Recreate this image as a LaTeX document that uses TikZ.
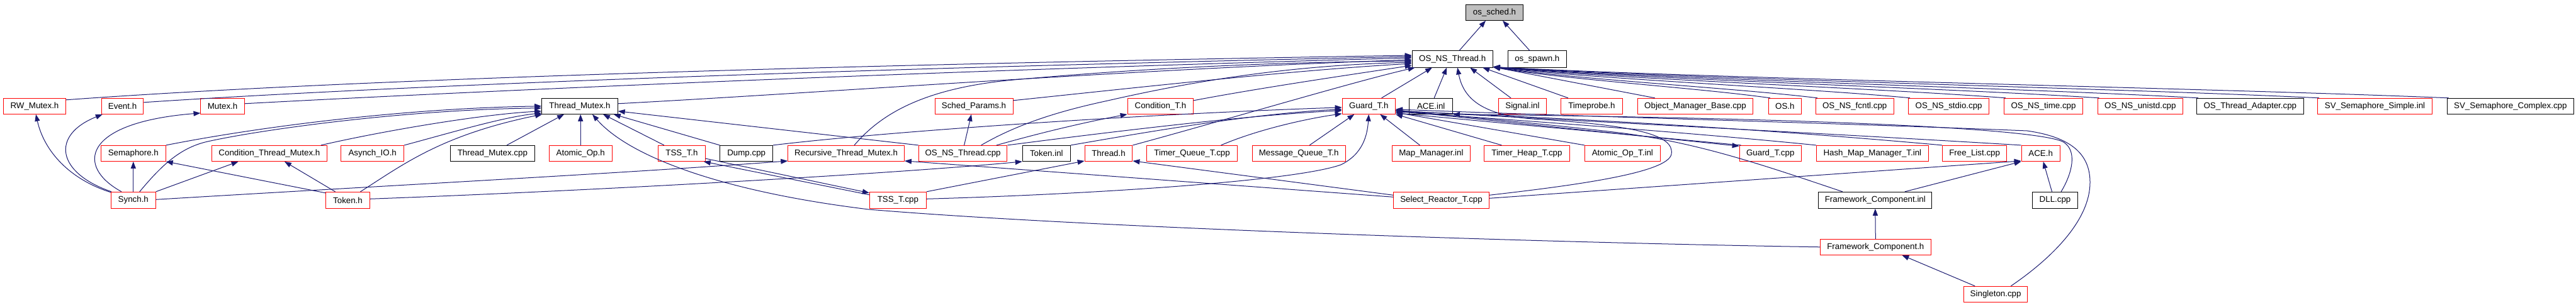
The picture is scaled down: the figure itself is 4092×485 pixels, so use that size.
\documentclass[tikz,border=0pt]{standalone}
\usepackage{fontspec}
\setmainfont{Liberation Sans}
\usetikzlibrary{arrows.meta,calc}
\definecolor{edgecol}{HTML}{191970}
\definecolor{redb}{HTML}{FF0000}
\definecolor{rootfill}{HTML}{BFBFBF}
\newcommand\dnode[5]{\node[#1,minimum width=#4*0.75pt] (#2) at (#3) {#5};}
\begin{document}
\begin{tikzpicture}[x=0.75pt,y=-0.75pt,
  base/.style={rectangle, line width=0.75pt, inner sep=0pt, minimum height=18.75pt, font=\fontsize{10}{12}\selectfont, text=black},
  rbox/.style={base, draw=redb},
  kbox/.style={base, draw=black},
  root/.style={base, draw=black, fill=rootfill},
  tall/.style={minimum height=19.5pt},
  dep/.style={draw=edgecol, line width=0.75pt, -{Triangle[length=8.25pt,width=6pt]}}]
\fill[white] (0,0) rectangle (4092,485);
\useasboundingbox (0,0) rectangle (4092,485);
% row 0
\dnode{root}{sched}{2374,19.8}{91}{os\_sched.h}
% row 1
\dnode{kbox,tall}{nsth}{2307.2,94}{128}{OS\_NS\_Thread.h}
\dnode{kbox,tall}{spawn}{2441.8,94}{93}{os\_spawn.h}
% row 2
\dnode{rbox}{rwm}{55,168.8}{99}{RW\_Mutex.h}
\dnode{rbox}{evt}{194.6,168.8}{66.5}{Event.h}
\dnode{rbox}{mtx}{353.6,168.8}{69.3}{Mutex.h}
\dnode{kbox}{thm}{921,168.8}{120.5}{Thread\_Mutex.h}
\dnode{rbox}{spar}{1547,168.8}{124}{Sched\_Params.h}
\dnode{rbox}{condT}{1843.4,168.8}{104.6}{Condition\_T.h}
\dnode{rbox}{guardh}{2174.3,168.8}{84.3}{Guard\_T.h}
\dnode{kbox}{aceinl}{2273.2,168.8}{68.5}{ACE.inl}
\dnode{rbox}{siginl}{2418.4,168.8}{76}{Signal.inl}
\dnode{rbox}{tprobe}{2528.4,168.8}{98.2}{Timeprobe.h}
\dnode{rbox}{omb}{2693,168.8}{183.6}{Object\_Manager\_Base.cpp}
\dnode{rbox}{osh}{2835.3,168.8}{52}{OS.h}
\dnode{rbox}{fcntl}{2946.2,168.8}{123.6}{OS\_NS\_fcntl.cpp}
\dnode{rbox}{stdio}{3095.6,168.8}{128}{OS\_NS\_stdio.cpp}
\dnode{rbox}{time}{3246,168.8}{125}{OS\_NS\_time.cpp}
\dnode{rbox}{unistd}{3399.8,168.8}{135.5}{OS\_NS\_unistd.cpp}
\dnode{kbox}{ota}{3574.3,168.8}{169.4}{OS\_Thread\_Adapter.cpp}
\dnode{rbox}{svs}{3772.5,168.8}{181.8}{SV\_Semaphore\_Simple.inl}
\dnode{kbox}{svc}{3987.8,168.8}{201.2}{SV\_Semaphore\_Complex.cpp}
% row 3
\dnode{rbox}{sem}{211.8,243.9}{102.8}{Semaphore.h}
\dnode{rbox}{ctm}{427.9,243.9}{182.9}{Condition\_Thread\_Mutex.h}
\dnode{rbox}{aio}{591.7,243.9}{99.9}{Asynch\_IO.h}
\dnode{kbox}{thmcpp}{782.4,243.9}{133.6}{Thread\_Mutex.cpp}
\dnode{rbox}{aop}{922.2,243.9}{99.9}{Atomic\_Op.h}
\dnode{rbox}{tssh}{1083,243.9}{74.6}{TSS\_T.h}
\dnode{kbox}{dump}{1185.7,243.9}{83.6}{Dump.cpp}
\dnode{rbox}{rtm}{1344.1,243.9}{184.6}{Recursive\_Thread\_Mutex.h}
\dnode{rbox}{nstcpp}{1529.6,243.9}{140.7}{OS\_NS\_Thread.cpp}
\dnode{kbox}{tokinl}{1662.3,243.9}{76}{Token.inl}
\dnode{rbox}{thr}{1761,243.9}{75.7}{Thread.h}
\dnode{rbox}{tqt}{1893.6,243.9}{143.6}{Timer\_Queue\_T.cpp}
\dnode{rbox}{mqt}{2063.2,243.9}{147.8}{Message\_Queue\_T.h}
\dnode{rbox}{mapm}{2273.4,243.9}{124}{Map\_Manager.inl}
\dnode{rbox}{theap}{2425.4,243.9}{135.7}{Timer\_Heap\_T.cpp}
\dnode{rbox}{aopt}{2577.3,243.9}{119.6}{Atomic\_Op\_T.inl}
\dnode{rbox}{guardcpp}{2812.2,243.9}{98.2}{Guard\_T.cpp}
\dnode{rbox}{hmm}{2974.3,243.9}{178}{Hash\_Map\_Manager\_T.inl}
\dnode{rbox}{flist}{3136.6,243.9}{102.4}{Free\_List.cpp}
\dnode{rbox}{aceh}{3241.7,243.9}{61.3}{ACE.h}
% row 4
\dnode{rbox,tall}{synch}{211.8,318.3}{70.7}{Synch.h}
\dnode{rbox,tall}{tokh}{552.5,318.3}{70}{Token.h}
\dnode{rbox,tall}{tsscpp}{1426.4,318.3}{90}{TSS\_T.cpp}
\dnode{rbox,tall}{srt}{2289.5,318.3}{151.8}{Select\_Reactor\_T.cpp}
\dnode{kbox,tall}{fcinl}{2978.8,318.3}{180.3}{Framework\_Component.inl}
\dnode{kbox,tall}{dll}{3264.5,318.3}{72.2}{DLL.cpp}
% row 5
\dnode{rbox}{fch}{2979.3,392.8}{175.5}{Framework\_Component.h}
% row 6
\dnode{rbox}{single}{3170.1,467.8}{101.5}{Singleton.cpp}

% ---- edges ----
\draw[dep] ($(nsth.north)+(10.8,0)$) -- ($(sched.south)+(-14,0)$);
\draw[dep] ($(spawn.north)+(-11.8,0)$) -- ($(sched.south)+(13,0)$);
% into OS_NS_Thread.h from left
\draw[dep] ($(rwm.north east)+(0,3)$) .. controls (500,130) and (1200,105) .. ($(nsth.west)+(0,-6)$);
\draw[dep] ($(evt.north east)+(0,7)$) .. controls (600,138) and (1300,110) .. ($(nsth.west)+(0,-4)$);
\draw[dep] ($(mtx.north east)+(0,9)$) .. controls (700,148) and (1400,115) .. ($(nsth.west)+(0,-2)$);
\draw[dep] ($(thm.east)+(0,-4)$) .. controls (1300,148) and (1800,110) .. ($(nsth.west)+(0,1)$);
\draw[dep] ($(rtm.north)+(13,0)$) .. controls (1400,180) and (1470,140) .. (1610,127) .. controls (1800,110) and (2000,99) .. ($(nsth.west)+(0,3)$);
\draw[dep] ($(nstcpp.north)+(29,0)$) .. controls (1620,195) and (1690,175) .. (1760,160) .. controls (1900,128) and (2050,104) .. ($(nsth.west)+(0,5)$);
\draw[dep] ($(spar.north east)+(0,4)$) .. controls (1800,140) and (2050,112) .. ($(nsth.west)+(0,7)$);
\draw[dep] ($(condT.north east)+(0,4)$) .. controls (2000,140) and (2150,118) .. ($(nsth.west)+(0,10)$);
\draw[dep] (thr.north east) .. controls (1950,190) and (2150,130) .. ($(nsth.south west)+(5,0)$);
% into OS_NS_Thread.h from below
\draw[dep] ($(guardh.north)+(20.3,0)$) -- ($(nsth.south)+(-32.2,0)$);
\draw[dep] ($(aceinl.north)+(5,0)$) -- ($(nsth.south)+(-9,0)$);
\draw[dep] ($(siginl.north)+(-18.4,0)$) -- ($(nsth.south)+(28,0)$);
\draw[dep] ($(tprobe.north)+(-37.4,0)$) -- ($(nsth.south)+(48,0)$);
\draw[dep] ($(omb.north west)+(28,0)$) -- ($(nsth.south east)+(0,-1)$);
\draw[dep] ($(osh.north west)+(3,0)$) .. controls (2701,140) and (2481,126) .. ($(nsth.south east)+(0,-1)$);
\draw[dep] ($(fcntl.north west)+(3,0)$) .. controls (2758,140) and (2500,126) .. ($(nsth.south east)+(0,-1)$);
\draw[dep] ($(stdio.north west)+(3,0)$) .. controls (2869,140) and (2537,126) .. ($(nsth.south east)+(0,-1)$);
\draw[dep] ($(time.north west)+(3,0)$) .. controls (2982,140) and (2575,126) .. ($(nsth.south east)+(0,-1)$);
\draw[dep] ($(unistd.north west)+(3,0)$) .. controls (3094,140) and (2612,126) .. ($(nsth.south east)+(0,-1)$);
\draw[dep] ($(ota.north west)+(3,0)$) .. controls (3211,140) and (2651,126) .. ($(nsth.south east)+(0,-1)$);
\draw[dep] ($(svs.north west)+(3,0)$) .. controls (3355,140) and (2699,126) .. ($(nsth.south east)+(0,-1)$);
\draw[dep] ($(svc.north west)+(3,0)$) .. controls (3510,140) and (2751,126) .. ($(nsth.south east)+(0,-1)$);
% left cluster
\draw[dep] (sem.north east) .. controls (420,200) and (650,172) .. (thm.west);
\draw[dep] ($(synch.north)+(10,0)$) .. controls (255,265) and (285,235) .. (330,225) .. controls (420,205) and (650,174) .. ($(thm.west)+(0,3)$);
\draw[dep] ($(ctm.north east)+(-10,0)$) .. controls (600,210) and (760,182) .. ($(thm.west)+(0,8)$);
\draw[dep] (aio.north east) .. controls (720,210) and (800,186) .. ($(thm.south west)+(0,-2)$);
\draw[dep] ($(tokh.north)+(20,0)$) .. controls (640,262) and (700,215) .. ($(thm.south west)+(1,0)$);
\draw[dep] ($(tokh.north west)+(0,2)$) -- (sem.south east);
\draw[dep] ($(tokh.north)+(-20,0)$) -- ($(ctm.south)+(24,0)$);
\draw[dep] ($(tokh.east)+(0,-2)$) .. controls (900,305) and (1400,278) .. (tokinl.south west);
\draw[dep] ($(synch.east)+(0,-1)$) .. controls (600,296) and (1000,275) .. ($(rtm.south west)+(0,-1)$);
\draw[dep] ($(synch.north west)+(0,1)$) .. controls (110,285) and (70,240) .. ($(rwm.south)+(2,0)$);
\draw[dep] ($(synch.north west)+(1,0)$) .. controls (90,275) and (80,215) .. ($(evt.south west)+(2,0)$);
\draw[dep] ($(synch.north)+(-18.8,0)$) .. controls (120,265) and (130,195) .. ($(mtx.south west)+(0,-2)$);
\draw[dep] (synch.north) -- (sem.south);
\draw[dep] (synch.north east) -- ($(ctm.south)+(-49.3,0)$);
% into Thread_Mutex.h
\draw[dep] (nstcpp.north west) -- ($(thm.east)+(0,8)$);
\draw[dep] (dump.north west) -- ($(thm.south east)+(-7,0)$);
\draw[dep] ($(tssh.north)+(-28,0)$) -- ($(thm.south)+(37,0)$);
\draw[dep] (aop.north) -- (aop.north |- thm.south);
\draw[dep] ($(thmcpp.north)+(22.6,0)$) -- ($(thm.south)+(-25,0)$);
\draw[dep] (fch.west) .. controls (2400,385) and (1700,360) .. (1380,333) .. controls (1150,305) and (1000,250) .. ($(thm.south)+(20,0)$);
% OS_NS_Thread.cpp
\draw[dep] ($(nstcpp.north)+(2,0)$) -- ($(spar.south)+(-4,0)$);
\draw[dep] ($(nstcpp.north)+(53.4,0)$) .. controls (1650,212) and (1720,195) .. (condT.south west);
% into Guard_T.h
\draw[dep] (dump.north east) .. controls (1400,210) and (1800,182) .. ($(guardh.west)+(0,2)$);
\draw[dep] (nstcpp.north east) .. controls (1800,205) and (2000,182) .. ($(guardh.west)+(0,7)$);
\draw[dep] (tokinl.north east) .. controls (1850,205) and (2000,180) .. ($(guardh.west)+(0,5)$);
\draw[dep] ($(tqt.north)+(46,0)$) .. controls (2000,205) and (2080,188) .. ($(guardh.south west)+(0,-1)$);
\draw[dep] ($(mqt.north)+(17,0)$) -- ($(guardh.south)+(-23,0)$);
\draw[dep] ($(mapm.north)+(-18,0)$) -- ($(guardh.south)+(18,0)$);
\draw[dep] ($(theap.north)+(-40,0)$) -- (guardh.south east);
\draw[dep] (aopt.north west) -- ($(guardh.east)+(0,10)$);
\draw[dep] ($(guardh.east)+(0,7)$) -- ($(guardcpp.north west)+(0,1.5)$);
\draw[dep] ($(guardcpp.north west)+(3,0)$) -- ($(guardh.east)+(0,11)$);
\draw[dep] (hmm.north west) .. controls (2700,212) and (2400,190) .. ($(guardh.east)+(0,9)$);
\draw[dep] (flist.north west) .. controls (2800,205) and (2500,188) .. ($(guardh.east)+(0,8)$);
\draw[dep] (aceh.north west) .. controls (2900,212) and (2500,192) .. ($(guardh.east)+(0,7)$);
\draw[dep] ($(fcinl.north)+(-52,0)$) .. controls (2800,262) and (2700,228) .. (2580,212) .. controls (2450,196) and (2300,184) .. ($(guardh.east)+(0,6)$);
\draw[dep] ($(single.north east)+(-27,0)$) .. controls (3260,410) and (3320,350) .. (3320,290) .. controls (3320,245) and (3290,218) .. (3220,208) .. controls (2900,195) and (2500,185) .. ($(guardh.east)+(0,5)$);
\draw[dep] ($(tsscpp.east)+(0,-2)$) .. controls (1700,310) and (2050,290) .. (2130,262) .. controls (2165,245) and (2172,215) .. (guardh.south);
% lower right
\draw[dep] ($(single.north)+(-33,0)$) -- ($(fch.south)+(42,0)$);
\draw[dep] (fch.north) -- (fcinl.south);
\draw[dep] ($(fcinl.north)+(47,0)$) -- (aceh.south west);
\draw[dep] ($(dll.north)+(-5,0)$) -- ($(aceh.south)+(4,0)$);
\draw[dep] ($(dll.north east)+(-27,0)$) .. controls (3292,275) and (3300,240) .. (3278,226) .. controls (3240,205) and (2900,188) .. (aceinl.south east);
% Select_Reactor_T.cpp
\draw[dep] ($(srt.east)+(0,-3)$) -- ($(aceh.south west)+(0,-1)$);
\draw[dep] ($(srt.east)+(0,-8)$) .. controls (2500,295) and (2650,275) .. (2655,245) .. controls (2660,215) and (2600,200) .. (2450,190) .. controls (2360,186) and (2325,160) .. ($(nsth.south)+(8,0)$);
\draw[dep] ($(srt.west)+(0,-5)$) -- ($(rtm.south east)+(0,-1)$);
\draw[dep] ($(srt.west)+(0,-8)$) -- ($(thr.south east)+(0,-1)$);
% TSS
\draw[dep] (tsscpp.north east) -- ($(thr.south west)+(0,-1)$);
\draw[dep] ($(tssh.south east)+(0,-4.8)$) -- ($(tsscpp.north west)+(0,2)$);
\draw[dep] ($(tsscpp.north west)+(0,5)$) -- ($(tssh.south east)+(-3,0)$);
\end{tikzpicture}
\end{document}
